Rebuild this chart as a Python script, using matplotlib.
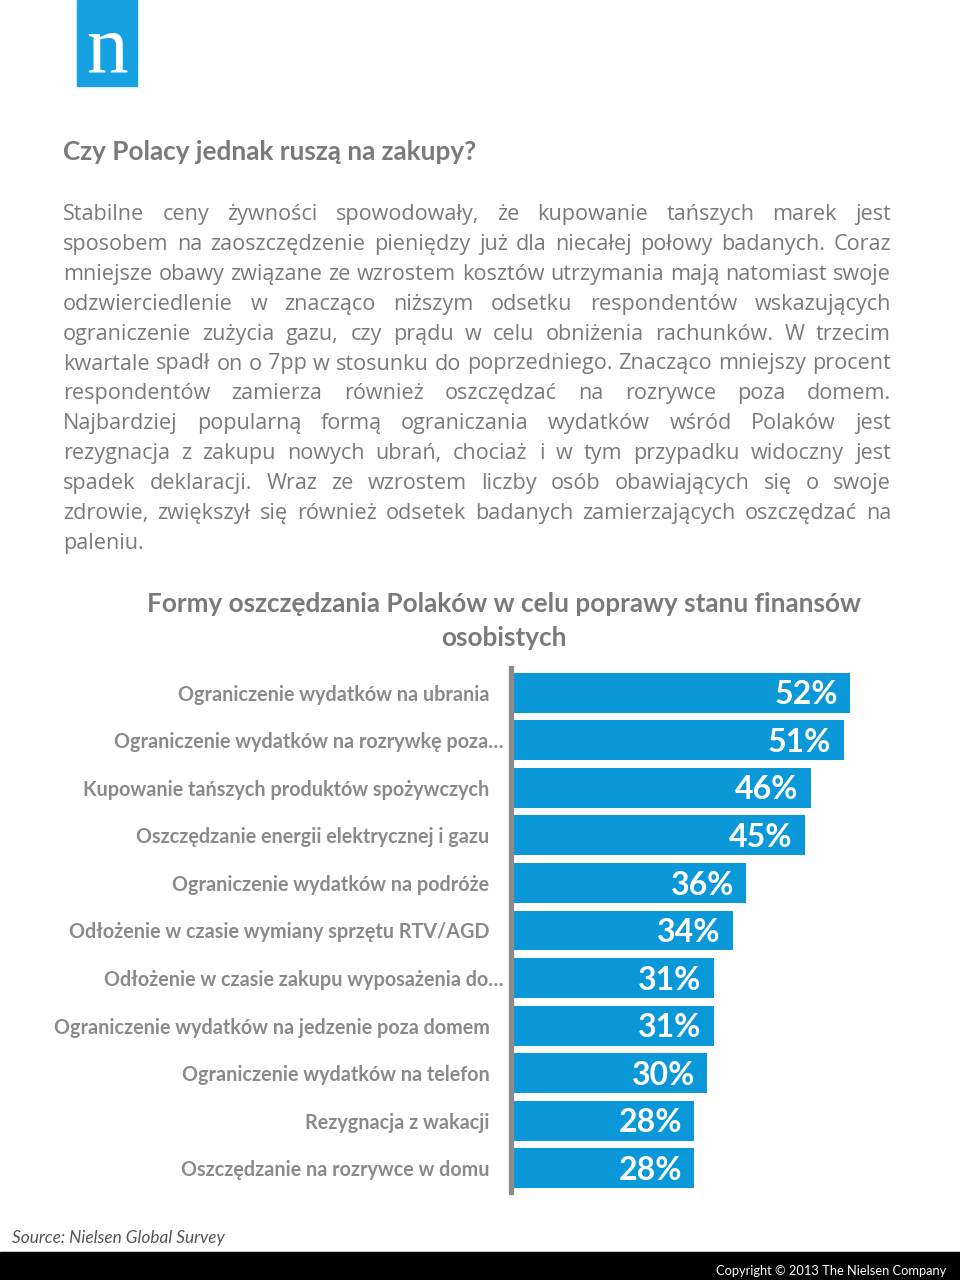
import matplotlib
matplotlib.use('Agg')
import matplotlib.pyplot as plt
from matplotlib.patches import Rectangle
from matplotlib.transforms import ScaledTranslation

categories = [
    'Ograniczenie wydatków na ubrania',
    'Ograniczenie wydatków na rozrywkę poza…',
    'Kupowanie tańszych produktów spożywczych',
    'Oszczędzanie energii elektrycznej i gazu',
    'Ograniczenie wydatków na podróże',
    'Odłożenie w czasie wymiany sprzętu RTV/AGD',
    'Odłożenie w czasie zakupu wyposażenia do…',
    'Ograniczenie wydatków na jedzenie poza domem',
    'Ograniczenie wydatków na telefon',
    'Rezygnacja z wakacji',
    'Oszczędzanie na rozrywce w domu',
]
values = [52, 51, 46, 45, 36, 34, 31, 31, 30, 28, 28]

heading = 'Czy Polacy jednak ruszą na zakupy?'
paragraph = [
    'Stabilne ceny żywności spowodowały, że kupowanie tańszych marek jest',
    'sposobem na zaoszczędzenie pieniędzy już dla niecałej połowy badanych. Coraz',
    'mniejsze obawy związane ze wzrostem kosztów utrzymania mają natomiast swoje',
    'odzwierciedlenie w znacząco niższym odsetku respondentów wskazujących',
    'ograniczenie zużycia gazu, czy prądu w celu obniżenia rachunków. W trzecim',
    'kwartale spadł on o 7pp w stosunku do poprzedniego. Znacząco mniejszy procent',
    'respondentów zamierza również oszczędzać na rozrywce poza domem.',
    'Najbardziej popularną formą ograniczania wydatków wśród Polaków jest',
    'rezygnacja z zakupu nowych ubrań, chociaż i w tym przypadku widoczny jest',
    'spadek deklaracji. Wraz ze wzrostem liczby osób obawiających się o swoje',
    'zdrowie, zwiększył się również odsetek badanych zamierzających oszczędzać na',
    'paleniu.',
]
chart_title = 'Formy oszczędzania Polaków w celu poprawy stanu finansów\nosobistych'
source = 'Source: Nielsen Global Survey'
copyright_txt = 'Copyright © 2013 The Nielsen Company'

W, H = 960, 1280
BLUE = '#0a98d8'
GRAY = '#8a8a8a'
TEXT_GRAY = '#7a7a7a'

fig = plt.figure(figsize=(W / 100, H / 100), dpi=100)
fig.patch.set_facecolor('white')


def fx(px):
    return px / W


def fy(py):
    return 1 - py / H


# logo
fig.patches.append(Rectangle((fx(77), fy(86)), fx(60), 86 / H,
                             transform=fig.transFigure, color='#16a1e3', zorder=0))
fig.text(fx(107), fy(72), 'n', color='white', fontsize=60, family='Liberation Serif',
         ha='center', va='baseline')

# heading
fig.text(fx(63), fy(160), heading, color=TEXT_GRAY, fontsize=18.8, family='Lato',
         weight='bold', va='baseline')

# justified paragraph: size the font so the tightest line just fits
renderer = fig.canvas.get_renderer()
left, right = 63, 891
probe = fig.text(0, 0, paragraph[5], fontsize=14, family='Open Sans')
psize = 14 * (right - left - 4) / probe.get_window_extent(renderer).width
probe.remove()

for i, line in enumerate(paragraph):
    yb = fy(220 + 29.9 * i)
    words = line.split(' ')
    if i == len(paragraph) - 1:
        fig.text(fx(left), yb, line, color=TEXT_GRAY, fontsize=psize,
                 family='Open Sans', va='baseline')
        continue
    objs = [fig.text(0, yb, w, color=TEXT_GRAY, fontsize=psize, family='Open Sans',
                     va='baseline') for w in words]
    widths = [o.get_window_extent(renderer).width for o in objs]
    gap = (right - left - sum(widths)) / (len(words) - 1)
    x = left
    for o, wd in zip(objs, widths):
        o.set_x(fx(x))
        x += wd + gap

# chart title
for k, tline in enumerate(chart_title.split('\n')):
    fig.text(fx(504), fy(612 + 34 * k), tline, color=TEXT_GRAY, fontsize=18.8,
             family='Lato', weight='bold', ha='center', va='baseline')

# bar chart
ax = fig.add_axes([fx(511), fy(1192), fx(900 - 511), 524 / H])
ypos = list(range(len(values)))
bars = ax.barh(ypos, values, height=0.84, color=BLUE, left=0.3)
ax.set_xlim(0, 60)
ax.set_ylim(10.5, -0.52)
ax.set_yticks(ypos)
ax.set_yticklabels(categories, fontsize=14.2, family='Lato', weight='bold', color=GRAY)
ax.tick_params(axis='y', length=0, pad=15.5)
ax.set_xticks([])
for s in ['top', 'right', 'bottom']:
    ax.spines[s].set_visible(False)
ax.spines['left'].set_color('#8c8c8c')
ax.spines['left'].set_linewidth(3.8)
ax.patch.set_alpha(0)

for lab, name in zip(ax.get_yticklabels(), categories):
    if name.endswith('…'):
        lab.set_transform(lab.get_transform() + ScaledTranslation(0.14, 0, fig.dpi_scale_trans))

for b, v in zip(bars, values):
    ax.annotate(f'{v}%', (b.get_x() + b.get_width(), b.get_y() + b.get_height() / 2),
                xytext=(-9, -1.5), textcoords='offset points', ha='right', va='center',
                color='white', fontsize=23, family='Lato', weight='bold')

# source and footer
fig.text(fx(12), fy(1243), source, color='#555555', fontsize=12.4, family='Lato',
         style='italic', va='baseline')
fig.patches.append(Rectangle((0, 0), 1, 28 / H, transform=fig.transFigure,
                             color='black', zorder=0))
fig.text(fx(946), fy(1275), copyright_txt, color='white', fontsize=9.3,
         family='Lato', ha='right', va='baseline')

fig.savefig('out.png', dpi=100, facecolor='white')
